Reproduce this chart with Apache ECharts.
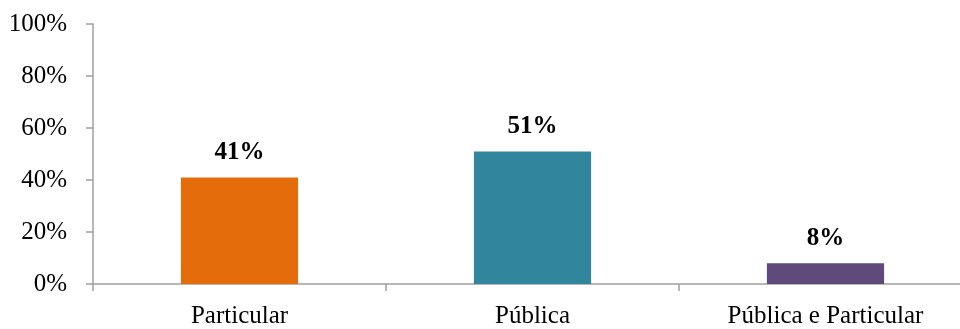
<!DOCTYPE html>
<html>
<head>
<meta charset="utf-8">
<script src="https://cdn.jsdelivr.net/npm/echarts@6/dist/echarts.min.js"></script>
<style>
  html, body { margin: 0; padding: 0; background: #fff; overflow: hidden; }
  /* plot runs slightly past the right edge of the window */
  #chart { width: 972px; height: 329px; }
</style>
</head>
<body>
<div id="chart"></div>
<script>
// Tipo de instituição: share of respondents per category (percent)
const categories = ['Particular', 'Pública', 'Pública e Particular'];
const shares = [41, 51, 8];
const barColors = ['#E46C0A', '#31859C', '#604A7B'];

const axisGray = '#A0A0A0';
const font = '"Liberation Serif", "Times New Roman", serif';

const chart = echarts.init(document.getElementById('chart'), null, { renderer: 'canvas' });
chart.setOption({
  animation: false,
  backgroundColor: '#ffffff',
  grid: { left: 93, right: 0, top: 24, bottom: 43, containLabel: false },
  xAxis: {
    type: 'category',
    data: categories,
    boundaryGap: true,
    axisLine: { show: true, lineStyle: { color: axisGray, width: 1.5 } },
    axisTick: { show: true, alignWithLabel: false, length: 7, lineStyle: { color: axisGray, width: 1.5 } },
    axisLabel: { color: '#000', fontFamily: font, fontSize: 25, margin: 20 }
  },
  yAxis: {
    type: 'value',
    min: 0,
    max: 100,
    interval: 20,
    axisLine: { show: true, lineStyle: { color: axisGray, width: 1.5 } },
    axisTick: { show: true, length: 7, lineStyle: { color: axisGray, width: 1.5 } },
    splitLine: { show: false },
    axisLabel: { color: '#000', fontFamily: font, fontSize: 25, margin: 26, formatter: '{value}%' }
  },
  series: [{
    type: 'bar',
    data: shares.map((v, i) => ({ value: v, itemStyle: { color: barColors[i] } })),
    barWidth: '40%',
    label: {
      show: true,
      position: 'top',
      distance: 12,
      formatter: '{c}%',
      color: '#000',
      fontFamily: font,
      fontSize: 25,
      fontWeight: 'bold'
    }
  }]
});
</script>
</body>
</html>
